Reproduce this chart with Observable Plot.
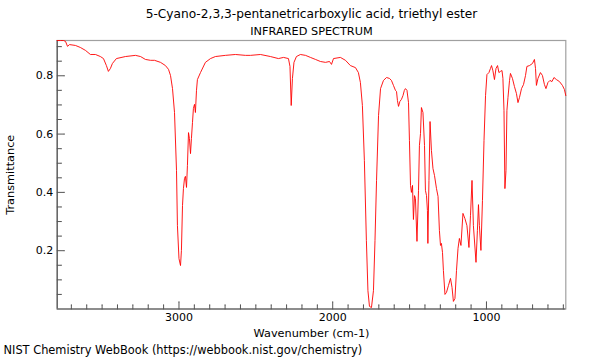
<!DOCTYPE html>
<html>
<head>
<meta charset="utf-8">
<script src="https://cdn.jsdelivr.net/npm/d3@7"></script>
<script src="https://cdn.jsdelivr.net/npm/@observablehq/plot@0.6"></script>
<style>
  html, body { margin: 0; padding: 0; background: #fff; }
  #chart { width: 600px; height: 360px; }
</style>
</head>
<body>
<div id="chart"></div>
<script>
const title = "5-Cyano-2,3,3-pentanetricarboxylic acid, triethyl ester";
const subtitle = "INFRARED SPECTRUM";
const xLabel = "Wavenumber (cm-1)";
const yLabel = "Transmittance";
const caption = "NIST Chemistry WebBook (https://webbook.nist.gov/chemistry)";

const xDomain = [3792, 484];
const yDomain = [0, 0.921];
const xMajorTicks = [1000, 2000, 3000];
const yMajorTicks = [0.2, 0.4, 0.6, 0.8];

const wavenumber = [
  3792,3771,3751,3738,3725,3712,3673,3641,3608,3576,
  3543,3511,3491,3472,3459,3446,3433,3407,3348,3283,
  3250,3218,3185,3159,3120,3088,3068,3055,3042,3029,
  3016,3010,3000,2990,2984,2977,2971,2964,2958,2951,
  2945,2938,2932,2925,2919,2912,2906,2899,2893,2886,
  2880,2860,2828,2795,2763,2698,2633,2567,2535,2470,
  2405,2353,2320,2288,2278,2270,2262,2252,2236,2210,
  2177,2145,2112,2080,2047,2021,2008,1995,1950,1917,
  1885,1852,1833,1820,1807,1794,1781,1771,1761,1748,
  1735,1725,1715,1702,1689,1670,1650,1631,1618,1605,
  1592,1585,1579,1572,1563,1553,1543,1534,1527,1517,
  1507,1501,1494,1488,1481,1475,1468,1462,1452,1442,
  1436,1429,1423,1413,1403,1397,1390,1384,1381,1374,
  1367,1358,1348,1338,1325,1315,1306,1299,1293,1286,
  1280,1270,1260,1247,1234,1224,1215,1205,1195,1185,
  1176,1166,1153,1140,1127,1114,1104,1094,1085,1068,
  1059,1052,1046,1036,1026,1016,1006,997,984,974,
  967,958,948,938,928,919,909,899,893,886,
  880,873,867,860,850,844,831,818,805,795,
  785,772,759,746,737,720,701,688,681,675,
  665,649,636,623,613,600,587,574,561,545,
  525,506,493,484
];
const transmittance = [
  0.921,0.921,0.921,0.918,0.901,0.907,0.904,0.897,0.887,0.873,
  0.873,0.866,0.859,0.835,0.815,0.825,0.842,0.859,0.866,0.870,
  0.866,0.856,0.853,0.853,0.846,0.835,0.822,0.801,0.756,0.674,
  0.475,0.286,0.173,0.149,0.201,0.355,0.413,0.448,0.455,0.417,
  0.492,0.605,0.585,0.533,0.585,0.640,0.688,0.702,0.674,0.750,
  0.787,0.811,0.846,0.859,0.866,0.870,0.873,0.870,0.870,0.873,
  0.866,0.859,0.863,0.859,0.832,0.698,0.791,0.846,0.866,0.873,
  0.870,0.863,0.856,0.849,0.846,0.849,0.839,0.859,0.863,0.853,
  0.835,0.828,0.811,0.777,0.698,0.509,0.235,0.063,0.009,0.005,
  0.063,0.235,0.441,0.664,0.756,0.784,0.794,0.791,0.784,0.767,
  0.750,0.746,0.715,0.695,0.712,0.719,0.732,0.750,0.756,0.750,
  0.708,0.578,0.424,0.400,0.424,0.307,0.389,0.379,0.232,0.407,
  0.561,0.602,0.691,0.674,0.561,0.407,0.389,0.338,0.225,0.441,
  0.643,0.544,0.482,0.458,0.413,0.386,0.269,0.218,0.225,0.194,
  0.132,0.050,0.057,0.081,0.105,0.074,0.026,0.036,0.132,0.208,
  0.242,0.218,0.328,0.310,0.286,0.211,0.320,0.441,0.286,0.160,
  0.269,0.358,0.286,0.201,0.372,0.578,0.732,0.804,0.811,0.825,
  0.835,0.817,0.787,0.825,0.835,0.811,0.815,0.818,0.791,0.681,
  0.413,0.475,0.681,0.726,0.784,0.808,0.791,0.763,0.739,0.708,
  0.726,0.756,0.770,0.801,0.832,0.835,0.842,0.856,0.825,0.767,
  0.791,0.811,0.801,0.770,0.756,0.777,0.784,0.780,0.794,0.787,
  0.780,0.767,0.753,0.732
];

const spectrum = wavenumber.map((w, i) => ({wn: w, t: transmittance[i]}));
const xMinorTicks = d3.range(500, 3800, 100).filter(v => !xMajorTicks.includes(v));
const yMinorTicks = d3.range(1, 19).map(i => +(i * 0.05).toFixed(2)).filter(v => !yMajorTicks.includes(v));

const axisColor = "#555";
const font = "DejaVu Sans";

const chart = Plot.plot({
  width: 600,
  height: 360,
  marginTop: 40,
  marginLeft: 56.7,
  marginRight: 34.7,
  marginBottom: 51.5,
  style: {fontFamily: font, fontSize: "11px", background: "#fff", color: "#000"},
  x: {domain: xDomain, axis: null},
  y: {domain: yDomain, axis: null},
  marks: [
    Plot.frame({stroke: "#a0a0a0", strokeWidth: 1.2}),
    Plot.ruleY([yDomain[0]], {stroke: axisColor, strokeWidth: 1.2}),
    Plot.ruleX([xDomain[0]], {stroke: axisColor, strokeWidth: 1.2}),
    Plot.vector(xMinorTicks, {x: d => d, frameAnchor: "bottom", anchor: "start", rotate: 0, length: 4, r: 0, stroke: axisColor, strokeWidth: 1}),
    Plot.vector(xMajorTicks, {x: d => d, frameAnchor: "bottom", anchor: "start", rotate: 0, length: 7, r: 0, stroke: axisColor, strokeWidth: 1}),
    Plot.vector(yMinorTicks, {y: d => d, frameAnchor: "left", anchor: "start", rotate: 90, length: 4, r: 0, stroke: axisColor, strokeWidth: 1}),
    Plot.vector(yMajorTicks, {y: d => d, frameAnchor: "left", anchor: "start", rotate: 90, length: 7, r: 0, stroke: axisColor, strokeWidth: 1}),
    Plot.axisX({ticks: xMajorTicks, tickSize: 0, tickPadding: 4, label: null, fontSize: 11, tickFormat: d => String(d)}),
    Plot.axisY({ticks: yMajorTicks, tickSize: 0, tickPadding: 4, label: null, fontSize: 11, tickFormat: d3.format(".1f")}),
    Plot.line(spectrum, {x: "wn", y: "t", stroke: "#ff0000", strokeWidth: 0.9}),
    Plot.text([xLabel], {frameAnchor: "bottom", dy: 28, fontSize: 11.3}),
    Plot.text([yLabel], {frameAnchor: "left", textAnchor: "middle", lineAnchor: "middle", dx: -46.7, rotate: -90, fontSize: 11.3}),
    Plot.text([title], {frameAnchor: "top", dy: -31, fontSize: 12.2}),
    Plot.text([subtitle], {frameAnchor: "top", dy: -14, fontSize: 11.3}),
    Plot.text([caption], {frameAnchor: "bottom-left", textAnchor: "start", dx: -53.7, dy: 44.5, fontSize: 11.4})
  ]
});
document.getElementById("chart").appendChild(chart);
</script>
</body>
</html>
